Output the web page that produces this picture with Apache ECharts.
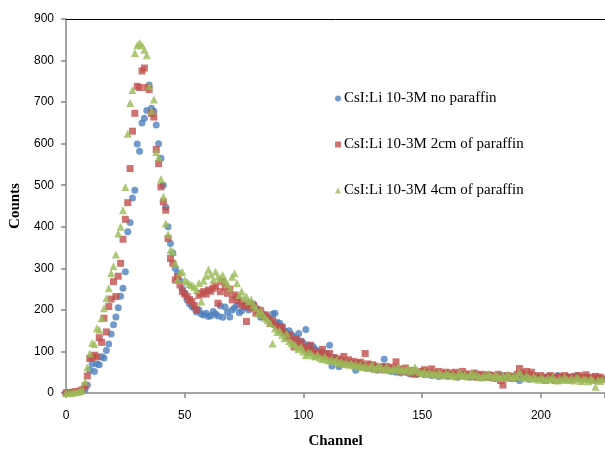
<!DOCTYPE html>
<html>
<head>
<meta charset="utf-8">
<title>CsI:Li spectra</title>
<script src="https://cdn.jsdelivr.net/npm/echarts@6/dist/echarts.min.js"></script>
<style>
  html, body { margin: 0; padding: 0; background: #fff; }
  #chart { width: 605px; height: 450px; }
</style>
</head>
<body>
<div id="chart"></div>
<script>
// counts per channel, index = channel number (0..226)
var noParaffin = [0,0,1,1,2,3,4,6,7,19,
  55,70,52,70,68,87,84,102,118,142,
  164,183,205,233,252,292,388,410,469,488,
  599,582,650,661,680,741,685,678,645,600,
  565,500,447,400,360,337,300,289,270,250,
  240,224,215,208,204,195,200,190,188,192,
  184,186,196,190,185,210,182,207,195,183,
  200,205,212,193,198,210,205,200,215,214,
  205,200,182,190,185,180,175,190,192,170,
  168,160,150,143,150,140,135,130,143,125,
  120,153,115,110,112,105,100,95,98,92,
  95,115,65,85,80,63,78,72,75,70,
  68,72,55,66,70,65,62,60,66,58,
  62,55,60,64,81,58,55,52,56,50,
  54,48,52,55,50,46,48,52,45,50,
  47,44,50,46,42,48,45,40,46,43,
  48,40,44,46,42,38,45,42,40,44,
  38,42,40,45,38,36,42,40,37,43,
  39,35,40,38,42,36,40,38,34,41,
  37,30,38,40,36,33,38,35,40,36,
  34,38,35,40,37,33,36,42,38,35,
  37,40,36,34,38,42,36,33,37,35,
  38,34,36,32,37,35,33];

var paraffin2cm = [0,1,1,2,3,3,5,8,17,41,
  83,85,91,87,133,122,180,147,208,226,
  268,232,281,312,370,418,458,540,630,673,
  738,735,775,782,735,730,673,664,586,552,
  496,460,440,372,324,312,272,280,260,244,
  238,232,225,220,210,200,235,240,244,238,
  248,245,252,258,216,244,268,255,240,250,
  224,236,230,222,215,208,172,215,205,210,
  192,200,198,185,188,180,168,175,165,160,
  152,158,145,135,140,128,111,130,118,123,
  110,105,98,115,100,95,92,98,105,90,
  88,95,80,85,78,82,75,88,72,80,
  70,76,68,72,74,66,95,70,62,68,
  65,60,58,62,56,64,60,55,62,75,
  58,52,56,60,50,48,54,45,50,48,
  52,56,46,50,58,45,48,52,44,47,
  50,42,48,45,50,40,44,52,42,46,
  40,44,48,38,42,45,40,38,44,42,
  36,40,45,30,19,38,42,36,40,35,
  45,59,48,40,52,44,50,42,38,35,
  42,36,30,38,42,35,30,38,40,34,
  42,36,38,33,40,36,42,34,38,44,
  35,38,32,40,36,38,34];

var paraffin4cm = [0,0,0,1,2,3,5,8,27,62,
  95,121,118,156,152,180,204,228,252,288,
  305,333,384,400,440,496,624,698,729,818,
  837,842,837,826,813,738,679,706,580,567,
  515,472,408,382,344,340,312,272,290,292,
  272,268,262,260,255,248,265,220,270,282,
  297,285,272,292,280,276,284,270,262,252,
  280,288,264,236,245,228,232,220,225,212,
  205,192,198,188,180,175,168,119,155,147,
  150,140,132,143,125,120,118,110,105,112,
  100,91,98,95,90,88,92,85,82,88,
  80,78,82,75,80,72,76,70,74,68,
  72,66,70,64,68,62,66,60,64,68,
  58,62,65,60,56,62,58,55,60,57,
  62,54,58,55,60,52,56,62,54,50,
  48,52,46,50,45,48,44,50,46,42,
  48,45,42,46,40,44,48,42,45,40,
  44,48,42,45,40,38,44,40,46,42,
  38,44,40,36,42,38,45,40,36,42,
  38,50,40,36,42,38,34,40,36,32,
  37,34,31,36,33,38,32,30,35,31,
  38,33,31,36,30,37,35,29,34,33,
  28,35,31,15,32,29,33];

var seriesNames = ['CsI:Li 10-3M no paraffin', 'CsI:Li 10-3M 2cm of paraffin', 'CsI:Li 10-3M 4cm of paraffin'];
var xTicks = [0, 50, 100, 150, 200];
var yTicks = [0, 100, 200, 300, 400, 500, 600, 700, 800, 900];

function toPoints(arr) {
  return arr.map(function (v, ch) { return [ch, v]; });
}

var chart = echarts.init(document.getElementById('chart'));
var tickFont = { color: '#000', fontSize: 12, fontFamily: 'Liberation Sans' };
var axisGray = { color: '#878787', width: 1.5 };

var option = {
  animation: false,
  grid: { left: 66, right: 0, top: 19, bottom: 57, containLabel: false, outerBoundsMode: 'none' },
  legend: {
    orient: 'vertical',
    left: 330,
    top: 86,
    itemGap: 31,
    itemWidth: 6,
    itemHeight: 6,
    textStyle: { fontFamily: 'Liberation Serif', fontSize: 15, color: '#000', padding: [0, 0, 0, -2] },
    data: seriesNames
  },
  xAxis: [{
    type: 'value',
    min: 0,
    max: 227,
    interval: 50,
    name: 'Channel',
    nameLocation: 'middle',
    nameGap: 41,
    nameTextStyle: { fontFamily: 'Liberation Serif', fontSize: 15, fontWeight: 'bold', color: '#000' },
    axisLine: { show: true, onZero: false, lineStyle: axisGray },
    axisTick: { show: true, length: 5, lineStyle: axisGray },
    axisLabel: {
      margin: 17,
      textStyle: tickFont,
      formatter: function (v) { return xTicks.indexOf(v) >= 0 ? String(v) : ''; }
    },
    splitLine: { show: false }
  }, {
    // black frame line across the top
    type: 'value',
    position: 'top',
    min: 0,
    max: 227,
    axisLine: { show: true, onZero: false, lineStyle: { color: '#000', width: 1 } },
    axisTick: { show: false },
    axisLabel: { show: false },
    splitLine: { show: false }
  }],
  yAxis: {
    type: 'value',
    min: 0,
    max: 900,
    interval: 100,
    name: 'Counts',
    nameLocation: 'middle',
    nameGap: 43,
    nameRotate: 90,
    nameTextStyle: { fontFamily: 'Liberation Serif', fontSize: 15, fontWeight: 'bold', color: '#000' },
    axisLine: { show: true, onZero: false, lineStyle: axisGray },
    axisTick: { show: true, length: 5, lineStyle: axisGray },
    axisLabel: {
      margin: 12,
      textStyle: tickFont,
      formatter: function (v) { return yTicks.indexOf(v) >= 0 ? String(v) : ''; }
    },
    splitLine: { show: false }
  },
  series: [{
    name: seriesNames[0],
    type: 'scatter',
    symbol: 'circle',
    symbolSize: 7,
    itemStyle: { color: '#4F81BD' },
    data: toPoints(noParaffin)
  }, {
    name: seriesNames[1],
    type: 'scatter',
    symbol: 'rect',
    symbolSize: 7,
    itemStyle: { color: '#C0504D' },
    data: toPoints(paraffin2cm)
  }, {
    name: seriesNames[2],
    type: 'scatter',
    symbol: 'triangle',
    symbolSize: 8,
    itemStyle: { color: '#9BBB59' },
    data: toPoints(paraffin4cm)
  }]
};
chart.setOption(option, true);
</script>
</body>
</html>
